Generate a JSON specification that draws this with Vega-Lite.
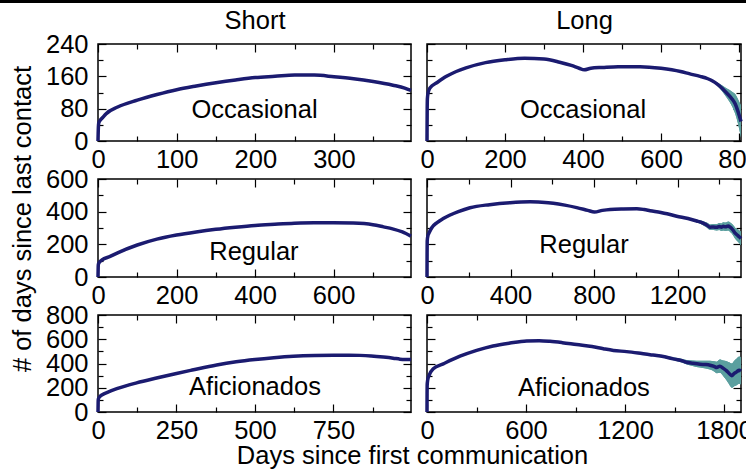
{
  "$schema": "https://vega.github.io/schema/vega-lite/v6.json",
  "padding": {"left": 0, "top": 0, "right": 0, "bottom": 0},
  "background": "white",
  "config": {
    "font": "Liberation Sans",
    "view": {"stroke": "black", "strokeWidth": 1.5},
    "axis": {"domain": false, "grid": false, "ticks": true, "tickColor": "black", "tickWidth": 1.2, "tickSize": -8, "format": "d",
      "labelFont": "Liberation Sans", "labelFontSize": 25.5, "labelColor": "black", "labelFlush": false, "labelOverlap": false,
      "titleFont": "Liberation Sans", "titleFontSize": 25.5, "titleFontWeight": "normal", "titleColor": "black"},
    "axisX": {"labelPadding": 14},
    "axisY": {"labelPadding": 18},
    "line": {"interpolate": "monotone"},
    "area": {"interpolate": "monotone"}
  },
  "datasets": {
    "curves": [
      {"p":"SO","x":0,"y":0},{"p":"SO","x":0.5,"y":35},{"p":"SO","x":1,"y":45},{"p":"SO","x":3,"y":52},{"p":"SO","x":6,"y":58},{"p":"SO","x":10,"y":67},{"p":"SO","x":25,"y":84},{"p":"SO","x":50,"y":101},{"p":"SO","x":75,"y":115},{"p":"SO","x":100,"y":127},{"p":"SO","x":125,"y":136},{"p":"SO","x":150,"y":144},{"p":"SO","x":175,"y":151},{"p":"SO","x":200,"y":157},{"p":"SO","x":225,"y":160},{"p":"SO","x":250,"y":163},{"p":"SO","x":275,"y":163},{"p":"SO","x":300,"y":159},{"p":"SO","x":325,"y":154},{"p":"SO","x":350,"y":147},{"p":"SO","x":375,"y":138},{"p":"SO","x":390,"y":131},{"p":"SO","x":398,"y":125},
      {"p":"LO","x":0,"y":0},{"p":"LO","x":0.5,"y":80},{"p":"LO","x":1,"y":105},{"p":"LO","x":3,"y":120},{"p":"LO","x":8,"y":132},{"p":"LO","x":25,"y":144},{"p":"LO","x":50,"y":160},{"p":"LO","x":75,"y":172},{"p":"LO","x":100,"y":181},{"p":"LO","x":150,"y":194},{"p":"LO","x":200,"y":201},{"p":"LO","x":250,"y":205},{"p":"LO","x":300,"y":203},{"p":"LO","x":340,"y":195},{"p":"LO","x":370,"y":187},{"p":"LO","x":390,"y":180},{"p":"LO","x":403,"y":176},{"p":"LO","x":420,"y":180},{"p":"LO","x":450,"y":182},{"p":"LO","x":490,"y":184},{"p":"LO","x":546,"y":184},{"p":"LO","x":600,"y":180},{"p":"LO","x":650,"y":172},{"p":"LO","x":674,"y":166},{"p":"LO","x":700,"y":160},{"p":"LO","x":720,"y":154},{"p":"LO","x":731,"y":149},{"p":"LO","x":745,"y":140},{"p":"LO","x":759,"y":128},{"p":"LO","x":770,"y":117},{"p":"LO","x":782,"y":104},{"p":"LO","x":790,"y":92},{"p":"LO","x":797,"y":74},{"p":"LO","x":802,"y":58},{"p":"LO","x":805,"y":48},
      {"p":"SR","x":0,"y":0},{"p":"SR","x":0.5,"y":60},{"p":"SR","x":1,"y":78},{"p":"SR","x":4,"y":92},{"p":"SR","x":10,"y":104},{"p":"SR","x":31,"y":126},{"p":"SR","x":50,"y":148},{"p":"SR","x":100,"y":196},{"p":"SR","x":150,"y":232},{"p":"SR","x":200,"y":257},{"p":"SR","x":250,"y":276},{"p":"SR","x":300,"y":292},{"p":"SR","x":350,"y":305},{"p":"SR","x":400,"y":316},{"p":"SR","x":450,"y":323},{"p":"SR","x":500,"y":329},{"p":"SR","x":550,"y":332},{"p":"SR","x":600,"y":332},{"p":"SR","x":650,"y":330},{"p":"SR","x":700,"y":320},{"p":"SR","x":727,"y":307},{"p":"SR","x":750,"y":295},{"p":"SR","x":775,"y":276},{"p":"SR","x":797,"y":250},
      {"p":"LR","x":0,"y":0},{"p":"LR","x":0.5,"y":150},{"p":"LR","x":1,"y":220},{"p":"LR","x":4,"y":250},{"p":"LR","x":10,"y":270},{"p":"LR","x":22,"y":300},{"p":"LR","x":50,"y":335},{"p":"LR","x":78,"y":358},{"p":"LR","x":150,"y":400},{"p":"LR","x":206,"y":424},{"p":"LR","x":300,"y":443},{"p":"LR","x":398,"y":455},{"p":"LR","x":494,"y":460},{"p":"LR","x":550,"y":457},{"p":"LR","x":605,"y":451},{"p":"LR","x":660,"y":440},{"p":"LR","x":717,"y":425},{"p":"LR","x":770,"y":408},{"p":"LR","x":802,"y":398},{"p":"LR","x":840,"y":408},{"p":"LR","x":877,"y":414},{"p":"LR","x":940,"y":417},{"p":"LR","x":1005,"y":418},{"p":"LR","x":1040,"y":413},{"p":"LR","x":1069,"y":406},{"p":"LR","x":1120,"y":395},{"p":"LR","x":1150,"y":387},{"p":"LR","x":1196,"y":372},{"p":"LR","x":1250,"y":358},{"p":"LR","x":1292,"y":343},{"p":"LR","x":1320,"y":331},{"p":"LR","x":1340,"y":318},{"p":"LR","x":1356,"y":305},{"p":"LR","x":1372,"y":306},{"p":"LR","x":1388,"y":304},{"p":"LR","x":1400,"y":309},{"p":"LR","x":1410,"y":305},{"p":"LR","x":1419,"y":310},{"p":"LR","x":1430,"y":307},{"p":"LR","x":1443,"y":312},{"p":"LR","x":1452,"y":305},{"p":"LR","x":1460,"y":296},{"p":"LR","x":1468,"y":283},{"p":"LR","x":1476,"y":268},{"p":"LR","x":1488,"y":255},{"p":"LR","x":1499,"y":242},{"p":"LR","x":1504,"y":236},
      {"p":"SA","x":0,"y":0},{"p":"SA","x":0.5,"y":80},{"p":"SA","x":1,"y":105},{"p":"SA","x":5,"y":125},{"p":"SA","x":15,"y":145},{"p":"SA","x":28,"y":160},{"p":"SA","x":60,"y":192},{"p":"SA","x":123,"y":240},{"p":"SA","x":190,"y":282},{"p":"SA","x":250,"y":318},{"p":"SA","x":300,"y":346},{"p":"SA","x":378,"y":388},{"p":"SA","x":440,"y":414},{"p":"SA","x":500,"y":433},{"p":"SA","x":560,"y":448},{"p":"SA","x":622,"y":460},{"p":"SA","x":690,"y":467},{"p":"SA","x":750,"y":469},{"p":"SA","x":800,"y":469},{"p":"SA","x":834,"y":467},{"p":"SA","x":870,"y":462},{"p":"SA","x":909,"y":453},{"p":"SA","x":940,"y":444},{"p":"SA","x":962,"y":436},{"p":"SA","x":980,"y":433},{"p":"SA","x":997,"y":432},
      {"p":"LA","x":0,"y":0},{"p":"LA","x":0.5,"y":150},{"p":"LA","x":1,"y":220},{"p":"LA","x":4,"y":262},{"p":"LA","x":12,"y":300},{"p":"LA","x":38,"y":356},{"p":"LA","x":99,"y":397},{"p":"LA","x":200,"y":460},{"p":"LA","x":301,"y":508},{"p":"LA","x":400,"y":545},{"p":"LA","x":503,"y":569},{"p":"LA","x":604,"y":586},{"p":"LA","x":680,"y":588},{"p":"LA","x":745,"y":583},{"p":"LA","x":820,"y":572},{"p":"LA","x":907,"y":556},{"p":"LA","x":1000,"y":540},{"p":"LA","x":1069,"y":522},{"p":"LA","x":1130,"y":508},{"p":"LA","x":1210,"y":498},{"p":"LA","x":1280,"y":486},{"p":"LA","x":1352,"y":472},{"p":"LA","x":1392,"y":466},{"p":"LA","x":1440,"y":455},{"p":"LA","x":1493,"y":438},{"p":"LA","x":1540,"y":425},{"p":"LA","x":1574,"y":410},{"p":"LA","x":1610,"y":402},{"p":"LA","x":1655,"y":394},{"p":"LA","x":1690,"y":391},{"p":"LA","x":1715,"y":386},{"p":"LA","x":1740,"y":376},{"p":"LA","x":1756,"y":367},{"p":"LA","x":1775,"y":378},{"p":"LA","x":1796,"y":360},{"p":"LA","x":1816,"y":339},{"p":"LA","x":1830,"y":320},{"p":"LA","x":1847,"y":300},{"p":"LA","x":1862,"y":318},{"p":"LA","x":1877,"y":331},{"p":"LA","x":1892,"y":345},{"p":"LA","x":1903,"y":338}
    ],
    "bands": [
      {"p":"LO","x":720,"lo":153,"hi":155},{"p":"LO","x":731,"lo":147,"hi":151},{"p":"LO","x":745,"lo":136,"hi":144},{"p":"LO","x":759,"lo":120,"hi":136},{"p":"LO","x":770,"lo":105,"hi":129},{"p":"LO","x":782,"lo":86,"hi":122},{"p":"LO","x":790,"lo":68,"hi":116},{"p":"LO","x":797,"lo":44,"hi":104},{"p":"LO","x":802,"lo":22,"hi":94},{"p":"LO","x":805,"lo":8,"hi":88},
      {"p":"LR","x":1250,"lo":354,"hi":362},{"p":"LR","x":1292,"lo":335,"hi":351},{"p":"LR","x":1320,"lo":319,"hi":343},{"p":"LR","x":1340,"lo":303,"hi":333},{"p":"LR","x":1356,"lo":288,"hi":322},{"p":"LR","x":1372,"lo":287,"hi":325},{"p":"LR","x":1388,"lo":284,"hi":324},{"p":"LR","x":1400,"lo":287,"hi":331},{"p":"LR","x":1410,"lo":282,"hi":328},{"p":"LR","x":1419,"lo":285,"hi":335},{"p":"LR","x":1430,"lo":281,"hi":333},{"p":"LR","x":1443,"lo":284,"hi":340},{"p":"LR","x":1452,"lo":276,"hi":334},{"p":"LR","x":1460,"lo":266,"hi":326},{"p":"LR","x":1468,"lo":251,"hi":315},{"p":"LR","x":1476,"lo":234,"hi":302},{"p":"LR","x":1488,"lo":218,"hi":292},{"p":"LR","x":1499,"lo":202,"hi":282},{"p":"LR","x":1504,"lo":194,"hi":278},
      {"p":"LA","x":1352,"lo":466,"hi":478},{"p":"LA","x":1392,"lo":458,"hi":474},{"p":"LA","x":1440,"lo":445,"hi":465},{"p":"LA","x":1493,"lo":426,"hi":450},{"p":"LA","x":1540,"lo":410,"hi":440},{"p":"LA","x":1574,"lo":392,"hi":428},{"p":"LA","x":1610,"lo":380,"hi":424},{"p":"LA","x":1655,"lo":366,"hi":422},{"p":"LA","x":1690,"lo":359,"hi":423},{"p":"LA","x":1715,"lo":350,"hi":422},{"p":"LA","x":1740,"lo":334,"hi":418},{"p":"LA","x":1756,"lo":319,"hi":415},{"p":"LA","x":1775,"lo":323,"hi":433},{"p":"LA","x":1796,"lo":295,"hi":425},{"p":"LA","x":1816,"lo":259,"hi":419},{"p":"LA","x":1830,"lo":230,"hi":410},{"p":"LA","x":1847,"lo":200,"hi":400},{"p":"LA","x":1862,"lo":213,"hi":423},{"p":"LA","x":1877,"lo":221,"hi":441},{"p":"LA","x":1892,"lo":233,"hi":457},{"p":"LA","x":1903,"lo":226,"hi":450}
    ],
    "labels": [
      {"p":"SO","x":199,"y":57,"t":"Occasional"},
      {"p":"LO","x":400,"y":58,"t":"Occasional"},
      {"p":"SR","x":397,"y":102,"t":"Regular"},
      {"p":"LR","x":752,"y":149,"t":"Regular"},
      {"p":"SA","x":500,"y":139,"t":"Aficionados"},
      {"p":"LA","x":951,"y":133,"t":"Aficionados"}
    ]
  },
  "vconcat": [
    {
      "width": 746, "height": 3,
      "view": {"stroke": null},
      "data": {"values": [{"a": 1}]},
      "mark": {"type": "rect", "color": "black"},
      "encoding": {}
    },
    {
      "bounds": "flush",
      "spacing": 16,
      "hconcat": [
        {
          "width": 82, "height": 1,
          "view": {"stroke": null},
          "data": {"values": []},
          "mark": "point"
        },
        {
          "columns": 2,
          "spacing": {"row": 38, "column": 16},
          "bounds": "flush",
          "concat": [
            {
              "width": 313, "height": 97,
              "resolve": {"axis": {"x": "independent", "y": "independent"}},
              "layer": [
                {"data": {"name": "bands"}, "transform": [{"filter": "datum.p == 'SO'"}], "mark": {"type": "area", "color": "#5b9f9f"},
                 "encoding": {"x": {"field": "x", "type": "quantitative", "scale": {"domain": [0, 398], "nice": false, "zero": false}, "axis": {"orient": "top", "values": [0, 100, 200, 300], "labels": false, "title": "Short", "titleX": 156.5, "titleY": -16, "titleAlign": "center", "titleBaseline": "alphabetic", "titleAngle": 0}},
                              "y": {"field": "lo", "type": "quantitative", "scale": {"domain": [0, 240], "nice": false, "zero": false}, "axis": {"orient": "right", "values": [0, 80, 160, 240], "labels": false, "title": null}},
                              "y2": {"field": "hi"}}},
                {"data": {"name": "bands"}, "transform": [{"filter": "datum.p == 'SO'"}], "mark": {"type": "area", "color": "#5b9f9f"},
                 "encoding": {"x": {"field": "x", "type": "quantitative", "scale": {"domain": [0, 398], "nice": false, "zero": false}, "axis": {"orient": "top", "values": [50, 150, 250, 350], "tickSize": -5, "labels": false, "title": null}},
                              "y": {"field": "lo", "type": "quantitative", "scale": {"domain": [0, 240], "nice": false, "zero": false}, "axis": {"orient": "right", "values": [40, 120, 200], "tickSize": -5, "labels": false, "title": null}},
                              "y2": {"field": "hi"}}},
                {"data": {"name": "curves"}, "transform": [{"filter": "datum.p == 'SO'"}], "mark": {"type": "line", "color": "#1b1b70", "strokeWidth": 3.5, "strokeJoin": "round"},
                 "encoding": {"x": {"field": "x", "type": "quantitative", "scale": {"domain": [0, 398], "nice": false, "zero": false}, "axis": {"orient": "bottom", "values": [0, 100, 200, 300], "title": null}},
                              "y": {"field": "y", "type": "quantitative", "scale": {"domain": [0, 240], "nice": false, "zero": false}, "axis": {"orient": "left", "values": [0, 80, 160, 240], "title": null}}}},
                {"data": {"name": "labels"}, "transform": [{"filter": "datum.p == 'SO'"}], "mark": {"type": "text", "fontSize": 25.5, "align": "center", "baseline": "alphabetic", "color": "black", "font": "Liberation Sans"},
                 "encoding": {"x": {"field": "x", "type": "quantitative", "scale": {"domain": [0, 398], "nice": false, "zero": false}, "axis": {"orient": "bottom", "values": [50, 150, 250, 350], "tickSize": -5, "labels": false, "title": null}},
                              "y": {"field": "y", "type": "quantitative", "scale": {"domain": [0, 240], "nice": false, "zero": false}, "axis": {"orient": "left", "values": [40, 120, 200], "tickSize": -5, "labels": false, "title": null}},
                              "text": {"field": "t"}}}
              ]
            },
            {
              "width": 314, "height": 97,
              "resolve": {"axis": {"x": "independent", "y": "independent"}},
              "layer": [
                {"data": {"name": "bands"}, "transform": [{"filter": "datum.p == 'LO'"}], "mark": {"type": "area", "color": "#5b9f9f"},
                 "encoding": {"x": {"field": "x", "type": "quantitative", "scale": {"domain": [0, 805], "nice": false, "zero": false}, "axis": {"orient": "top", "values": [0, 200, 400, 600, 800], "labels": false, "title": "Long", "titleX": 157, "titleY": -16, "titleAlign": "center", "titleBaseline": "alphabetic", "titleAngle": 0}},
                              "y": {"field": "lo", "type": "quantitative", "scale": {"domain": [0, 240], "nice": false, "zero": false}, "axis": {"orient": "right", "values": [0, 80, 160, 240], "labels": false, "title": null}},
                              "y2": {"field": "hi"}}},
                {"data": {"name": "bands"}, "transform": [{"filter": "datum.p == 'LO'"}], "mark": {"type": "area", "color": "#5b9f9f"},
                 "encoding": {"x": {"field": "x", "type": "quantitative", "scale": {"domain": [0, 805], "nice": false, "zero": false}, "axis": {"orient": "top", "values": [100, 300, 500, 700], "tickSize": -5, "labels": false, "title": null}},
                              "y": {"field": "lo", "type": "quantitative", "scale": {"domain": [0, 240], "nice": false, "zero": false}, "axis": {"orient": "right", "values": [40, 120, 200], "tickSize": -5, "labels": false, "title": null}},
                              "y2": {"field": "hi"}}},
                {"data": {"name": "curves"}, "transform": [{"filter": "datum.p == 'LO'"}], "mark": {"type": "line", "color": "#1b1b70", "strokeWidth": 3.5, "strokeJoin": "round"},
                 "encoding": {"x": {"field": "x", "type": "quantitative", "scale": {"domain": [0, 805], "nice": false, "zero": false}, "axis": {"orient": "bottom", "values": [0, 200, 400, 600, 800], "title": null}},
                              "y": {"field": "y", "type": "quantitative", "scale": {"domain": [0, 240], "nice": false, "zero": false}, "axis": {"orient": "left", "values": [0, 80, 160, 240], "labels": false, "title": null}}}},
                {"data": {"name": "labels"}, "transform": [{"filter": "datum.p == 'LO'"}], "mark": {"type": "text", "fontSize": 25.5, "align": "center", "baseline": "alphabetic", "color": "black", "font": "Liberation Sans"},
                 "encoding": {"x": {"field": "x", "type": "quantitative", "scale": {"domain": [0, 805], "nice": false, "zero": false}, "axis": {"orient": "bottom", "values": [100, 300, 500, 700], "tickSize": -5, "labels": false, "title": null}},
                              "y": {"field": "y", "type": "quantitative", "scale": {"domain": [0, 240], "nice": false, "zero": false}, "axis": {"orient": "left", "values": [40, 120, 200], "tickSize": -5, "labels": false, "title": null}},
                              "text": {"field": "t"}}}
              ]
            },
            {
              "width": 313, "height": 98,
              "resolve": {"axis": {"x": "independent", "y": "independent"}},
              "layer": [
                {"data": {"name": "bands"}, "transform": [{"filter": "datum.p == 'SR'"}], "mark": {"type": "area", "color": "#5b9f9f"},
                 "encoding": {"x": {"field": "x", "type": "quantitative", "scale": {"domain": [0, 797], "nice": false, "zero": false}, "axis": {"orient": "top", "values": [0, 200, 400, 600], "labels": false, "title": null}},
                              "y": {"field": "lo", "type": "quantitative", "scale": {"domain": [0, 600], "nice": false, "zero": false}, "axis": {"orient": "right", "values": [0, 200, 400, 600], "labels": false, "title": null}},
                              "y2": {"field": "hi"}}},
                {"data": {"name": "bands"}, "transform": [{"filter": "datum.p == 'SR'"}], "mark": {"type": "area", "color": "#5b9f9f"},
                 "encoding": {"x": {"field": "x", "type": "quantitative", "scale": {"domain": [0, 797], "nice": false, "zero": false}, "axis": {"orient": "top", "values": [100, 300, 500, 700], "tickSize": -5, "labels": false, "title": null}},
                              "y": {"field": "lo", "type": "quantitative", "scale": {"domain": [0, 600], "nice": false, "zero": false}, "axis": {"orient": "right", "values": [100, 300, 500], "tickSize": -5, "labels": false, "title": null}},
                              "y2": {"field": "hi"}}},
                {"data": {"name": "curves"}, "transform": [{"filter": "datum.p == 'SR'"}], "mark": {"type": "line", "color": "#1b1b70", "strokeWidth": 3.5, "strokeJoin": "round"},
                 "encoding": {"x": {"field": "x", "type": "quantitative", "scale": {"domain": [0, 797], "nice": false, "zero": false}, "axis": {"orient": "bottom", "values": [0, 200, 400, 600], "title": null}},
                              "y": {"field": "y", "type": "quantitative", "scale": {"domain": [0, 600], "nice": false, "zero": false}, "axis": {"orient": "left", "values": [0, 200, 400, 600], "title": "# of days since last contact", "titleX": -67.5, "titleY": 39.5, "titleAngle": -90, "titleAlign": "center", "titleBaseline": "alphabetic"}}}},
                {"data": {"name": "labels"}, "transform": [{"filter": "datum.p == 'SR'"}], "mark": {"type": "text", "fontSize": 25.5, "align": "center", "baseline": "alphabetic", "color": "black", "font": "Liberation Sans"},
                 "encoding": {"x": {"field": "x", "type": "quantitative", "scale": {"domain": [0, 797], "nice": false, "zero": false}, "axis": {"orient": "bottom", "values": [100, 300, 500, 700], "tickSize": -5, "labels": false, "title": null}},
                              "y": {"field": "y", "type": "quantitative", "scale": {"domain": [0, 600], "nice": false, "zero": false}, "axis": {"orient": "left", "values": [100, 300, 500], "tickSize": -5, "labels": false, "title": null}},
                              "text": {"field": "t"}}}
              ]
            },
            {
              "width": 314, "height": 98,
              "resolve": {"axis": {"x": "independent", "y": "independent"}},
              "layer": [
                {"data": {"name": "bands"}, "transform": [{"filter": "datum.p == 'LR'"}], "mark": {"type": "area", "color": "#5b9f9f"},
                 "encoding": {"x": {"field": "x", "type": "quantitative", "scale": {"domain": [0, 1504], "nice": false, "zero": false}, "axis": {"orient": "top", "values": [0, 400, 800, 1200], "labels": false, "title": null}},
                              "y": {"field": "lo", "type": "quantitative", "scale": {"domain": [0, 600], "nice": false, "zero": false}, "axis": {"orient": "right", "values": [0, 200, 400, 600], "labels": false, "title": null}},
                              "y2": {"field": "hi"}}},
                {"data": {"name": "bands"}, "transform": [{"filter": "datum.p == 'LR'"}], "mark": {"type": "area", "color": "#5b9f9f"},
                 "encoding": {"x": {"field": "x", "type": "quantitative", "scale": {"domain": [0, 1504], "nice": false, "zero": false}, "axis": {"orient": "top", "values": [200, 600, 1000, 1400], "tickSize": -5, "labels": false, "title": null}},
                              "y": {"field": "lo", "type": "quantitative", "scale": {"domain": [0, 600], "nice": false, "zero": false}, "axis": {"orient": "right", "values": [100, 300, 500], "tickSize": -5, "labels": false, "title": null}},
                              "y2": {"field": "hi"}}},
                {"data": {"name": "curves"}, "transform": [{"filter": "datum.p == 'LR'"}], "mark": {"type": "line", "color": "#1b1b70", "strokeWidth": 3.5, "strokeJoin": "round"},
                 "encoding": {"x": {"field": "x", "type": "quantitative", "scale": {"domain": [0, 1504], "nice": false, "zero": false}, "axis": {"orient": "bottom", "values": [0, 400, 800, 1200], "title": null}},
                              "y": {"field": "y", "type": "quantitative", "scale": {"domain": [0, 600], "nice": false, "zero": false}, "axis": {"orient": "left", "values": [0, 200, 400, 600], "labels": false, "title": null}}}},
                {"data": {"name": "labels"}, "transform": [{"filter": "datum.p == 'LR'"}], "mark": {"type": "text", "fontSize": 25.5, "align": "center", "baseline": "alphabetic", "color": "black", "font": "Liberation Sans"},
                 "encoding": {"x": {"field": "x", "type": "quantitative", "scale": {"domain": [0, 1504], "nice": false, "zero": false}, "axis": {"orient": "bottom", "values": [200, 600, 1000, 1400], "tickSize": -5, "labels": false, "title": null}},
                              "y": {"field": "y", "type": "quantitative", "scale": {"domain": [0, 600], "nice": false, "zero": false}, "axis": {"orient": "left", "values": [100, 300, 500], "tickSize": -5, "labels": false, "title": null}},
                              "text": {"field": "t"}}}
              ]
            },
            {
              "width": 313, "height": 97,
              "resolve": {"axis": {"x": "independent", "y": "independent"}},
              "layer": [
                {"data": {"name": "bands"}, "transform": [{"filter": "datum.p == 'SA'"}], "mark": {"type": "area", "color": "#5b9f9f"},
                 "encoding": {"x": {"field": "x", "type": "quantitative", "scale": {"domain": [0, 997], "nice": false, "zero": false}, "axis": {"orient": "top", "values": [0, 250, 500, 750], "labels": false, "title": null}},
                              "y": {"field": "lo", "type": "quantitative", "scale": {"domain": [0, 800], "nice": false, "zero": false}, "axis": {"orient": "right", "values": [0, 200, 400, 600, 800], "labels": false, "title": null}},
                              "y2": {"field": "hi"}}},
                {"data": {"name": "bands"}, "transform": [{"filter": "datum.p == 'SA'"}], "mark": {"type": "area", "color": "#5b9f9f"},
                 "encoding": {"x": {"field": "x", "type": "quantitative", "scale": {"domain": [0, 997], "nice": false, "zero": false}, "axis": {"orient": "top", "values": [125, 375, 625, 875], "tickSize": -5, "labels": false, "title": null}},
                              "y": {"field": "lo", "type": "quantitative", "scale": {"domain": [0, 800], "nice": false, "zero": false}, "axis": {"orient": "right", "values": [100, 300, 500, 700], "tickSize": -5, "labels": false, "title": null}},
                              "y2": {"field": "hi"}}},
                {"data": {"name": "curves"}, "transform": [{"filter": "datum.p == 'SA'"}], "mark": {"type": "line", "color": "#1b1b70", "strokeWidth": 3.5, "strokeJoin": "round"},
                 "encoding": {"x": {"field": "x", "type": "quantitative", "scale": {"domain": [0, 997], "nice": false, "zero": false}, "axis": {"orient": "bottom", "values": [0, 250, 500, 750], "title": "Days since first communication", "titleX": 314, "titleY": 51, "titleAlign": "center", "titleBaseline": "alphabetic"}},
                              "y": {"field": "y", "type": "quantitative", "scale": {"domain": [0, 800], "nice": false, "zero": false}, "axis": {"orient": "left", "values": [0, 200, 400, 600, 800], "title": null}}}},
                {"data": {"name": "labels"}, "transform": [{"filter": "datum.p == 'SA'"}], "mark": {"type": "text", "fontSize": 25.5, "align": "center", "baseline": "alphabetic", "color": "black", "font": "Liberation Sans"},
                 "encoding": {"x": {"field": "x", "type": "quantitative", "scale": {"domain": [0, 997], "nice": false, "zero": false}, "axis": {"orient": "bottom", "values": [125, 375, 625, 875], "tickSize": -5, "labels": false, "title": null}},
                              "y": {"field": "y", "type": "quantitative", "scale": {"domain": [0, 800], "nice": false, "zero": false}, "axis": {"orient": "left", "values": [100, 300, 500, 700], "tickSize": -5, "labels": false, "title": null}},
                              "text": {"field": "t"}}}
              ]
            },
            {
              "width": 314, "height": 97,
              "resolve": {"axis": {"x": "independent", "y": "independent"}},
              "layer": [
                {"data": {"name": "bands"}, "transform": [{"filter": "datum.p == 'LA'"}], "mark": {"type": "area", "color": "#5b9f9f"},
                 "encoding": {"x": {"field": "x", "type": "quantitative", "scale": {"domain": [0, 1903], "nice": false, "zero": false}, "axis": {"orient": "top", "values": [0, 600, 1200, 1800], "labels": false, "title": null}},
                              "y": {"field": "lo", "type": "quantitative", "scale": {"domain": [0, 800], "nice": false, "zero": false}, "axis": {"orient": "right", "values": [0, 200, 400, 600, 800], "labels": false, "title": null}},
                              "y2": {"field": "hi"}}},
                {"data": {"name": "bands"}, "transform": [{"filter": "datum.p == 'LA'"}], "mark": {"type": "area", "color": "#5b9f9f"},
                 "encoding": {"x": {"field": "x", "type": "quantitative", "scale": {"domain": [0, 1903], "nice": false, "zero": false}, "axis": {"orient": "top", "values": [300, 900, 1500], "tickSize": -5, "labels": false, "title": null}},
                              "y": {"field": "lo", "type": "quantitative", "scale": {"domain": [0, 800], "nice": false, "zero": false}, "axis": {"orient": "right", "values": [100, 300, 500, 700], "tickSize": -5, "labels": false, "title": null}},
                              "y2": {"field": "hi"}}},
                {"data": {"name": "curves"}, "transform": [{"filter": "datum.p == 'LA'"}], "mark": {"type": "line", "color": "#1b1b70", "strokeWidth": 3.5, "strokeJoin": "round"},
                 "encoding": {"x": {"field": "x", "type": "quantitative", "scale": {"domain": [0, 1903], "nice": false, "zero": false}, "axis": {"orient": "bottom", "values": [0, 600, 1200, 1800], "title": null}},
                              "y": {"field": "y", "type": "quantitative", "scale": {"domain": [0, 800], "nice": false, "zero": false}, "axis": {"orient": "left", "values": [0, 200, 400, 600, 800], "labels": false, "title": null}}}},
                {"data": {"name": "labels"}, "transform": [{"filter": "datum.p == 'LA'"}], "mark": {"type": "text", "fontSize": 25.5, "align": "center", "baseline": "alphabetic", "color": "black", "font": "Liberation Sans"},
                 "encoding": {"x": {"field": "x", "type": "quantitative", "scale": {"domain": [0, 1903], "nice": false, "zero": false}, "axis": {"orient": "bottom", "values": [300, 900, 1500], "tickSize": -5, "labels": false, "title": null}},
                              "y": {"field": "y", "type": "quantitative", "scale": {"domain": [0, 800], "nice": false, "zero": false}, "axis": {"orient": "left", "values": [100, 300, 500, 700], "tickSize": -5, "labels": false, "title": null}},
                              "text": {"field": "t"}}}
              ]
            }
          ]
        }
      ]
    }
  ],
  "spacing": 4,
  "bounds": "full"
}
